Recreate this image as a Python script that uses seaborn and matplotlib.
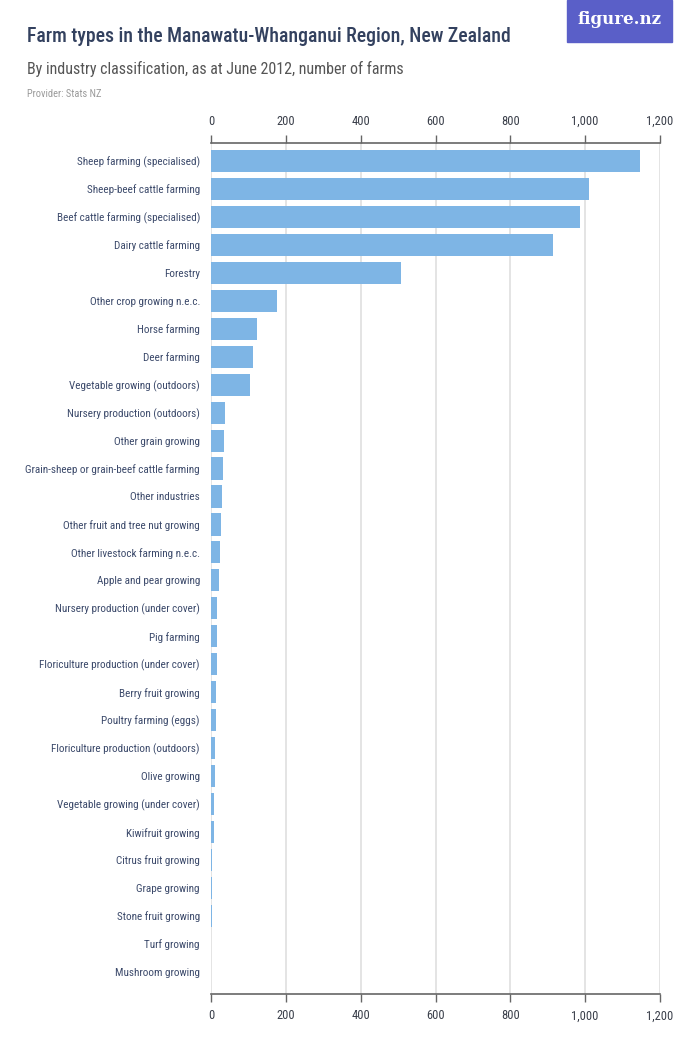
import matplotlib
matplotlib.use("Agg")
import matplotlib.pyplot as plt
from matplotlib import font_manager
from matplotlib.patches import Rectangle
from matplotlib.ticker import FuncFormatter
import pandas as pd
import seaborn as sns

# number of farms by industry, June 2012
industries = [
    "Sheep farming (specialised)",
    "Sheep-beef cattle farming",
    "Beef cattle farming (specialised)",
    "Dairy cattle farming",
    "Forestry",
    "Other crop growing n.e.c.",
    "Horse farming",
    "Deer farming",
    "Vegetable growing (outdoors)",
    "Nursery production (outdoors)",
    "Other grain growing",
    "Grain-sheep or grain-beef cattle farming",
    "Other industries",
    "Other fruit and tree nut growing",
    "Other livestock farming n.e.c.",
    "Apple and pear growing",
    "Nursery production (under cover)",
    "Pig farming",
    "Floriculture production (under cover)",
    "Berry fruit growing",
    "Poultry farming (eggs)",
    "Floriculture production (outdoors)",
    "Olive growing",
    "Vegetable growing (under cover)",
    "Kiwifruit growing",
    "Citrus fruit growing",
    "Grape growing",
    "Stone fruit growing",
    "Turf growing",
    "Mushroom growing",
]
farms = [1147, 1009, 985, 915, 507, 176, 122, 113, 104, 38, 35, 32, 29, 26, 23,
         21, 17, 17, 17, 14, 14, 12, 12, 9, 9, 3, 3, 3, 0, 0]
x_ticks = [0, 200, 400, 600, 800, 1000, 1200]


def pick_font(names):
    for name in names:
        try:
            font_manager.findfont(font_manager.FontProperties(family=name),
                                  fallback_to_default=False)
            return name
        except ValueError:
            continue
    return "DejaVu Sans"


FONT = pick_font(["Liberation Sans Narrow", "Roboto Condensed", "Roboto"])

df = pd.DataFrame({"industry": industries, "farms": farms})

sns.set_theme(style="white")
plt.rcParams["font.family"] = [FONT, "DejaVu Sans"]

W, H = 700, 1050
fig = plt.figure(figsize=(W / 100, H / 100), dpi=100)
ax = fig.add_axes([211 / W, 1 - 994 / H, 449 / W, (994 - 143) / H])

sns.barplot(data=df, x="farms", y="industry", color="#7eb5e5", saturation=1,
            width=0.79, linewidth=0, ax=ax)

ax.set_xlim(0, 1200)
ax.set_ylim(len(industries) - 1 + 0.79, -0.64)
ax.set_xticks(x_ticks)
ax.xaxis.set_major_formatter(FuncFormatter(lambda v, p: f"{int(v):,}"))
ax.set_xlabel("")
ax.set_ylabel("")

ax.grid(axis="x", color="#e2e2e2", lw=1.3)
ax.set_axisbelow(True)
for side in ["left", "right"]:
    ax.spines[side].set_visible(False)
for side in ["top", "bottom"]:
    ax.spines[side].set_color("#666666")
    ax.spines[side].set_linewidth(1.2)

ax.tick_params(axis="x", top=True, labeltop=True, bottom=True, labelbottom=True,
               direction="out", length=6, width=1, color="#666666",
               labelcolor="#3a3f4a", labelsize=9, pad=5)
ax.tick_params(axis="y", left=False, labelsize=8, labelcolor="#3c4a6b", pad=2)

# header
fig.text(27 / W, 1 - 36 / H, "Farm types in the Manawatu-Whanganui Region, New Zealand",
         fontsize=14.2, color="#33415f", fontweight="medium", va="center", ha="left")
fig.text(27 / W, 1 - 69 / H, "By industry classification, as at June 2012, number of farms",
         fontsize=11.5, color="#555555", va="center", ha="left")
fig.text(27 / W, 1 - 94 / H, "Provider: Stats NZ",
         fontsize=7.5, color="#9a9a9a", va="center", ha="left")

# logo box
fig.patches.append(Rectangle((567 / W, 1 - 42 / H), 105 / W, 42 / H,
                             transform=fig.transFigure, color="#5a5fc8", zorder=5))
fig.text(619 / W, 1 - 20 / H, "figure.nz", fontsize=12, color="white",
         family=["DejaVu Serif"], fontweight="bold", ha="center", va="center", zorder=6)

fig.savefig("out.png", dpi=100)
